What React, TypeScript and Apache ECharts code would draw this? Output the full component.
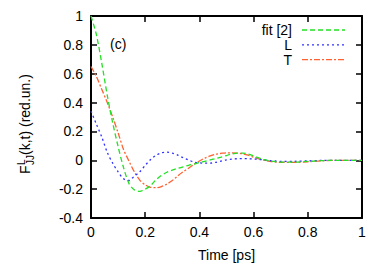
import React, { useEffect, useRef } from "react";
import * as echarts from "echarts";

const times = [
  0, 0.02, 0.04, 0.06, 0.08, 0.1, 0.12, 0.14, 0.16, 0.18, 0.2, 0.22, 0.24, 0.26, 0.28, 0.3,
  0.32, 0.34, 0.36, 0.38, 0.4, 0.42, 0.44, 0.46, 0.48, 0.5, 0.52, 0.54, 0.56, 0.58, 0.6,
  0.62, 0.64, 0.66, 0.68, 0.7, 0.75, 0.8, 0.85, 0.9, 0.95, 1.0,
];

const fitValues = [
  1.0, 0.87, 0.67, 0.45, 0.26, 0.095, -0.05, -0.16, -0.205, -0.215, -0.2, -0.175, -0.135,
  -0.105, -0.083, -0.068, -0.056, -0.045, -0.035, -0.026, -0.016, -0.007, 0.003, 0.012,
  0.022, 0.033, 0.044, 0.05, 0.05, 0.043, 0.03, 0.016, 0.004, -0.004, -0.01, -0.013, -0.013,
  -0.008, -0.003, 0, 0, 0,
];

const lValues = [
  0.34, 0.25, 0.16, 0.055, -0.02, -0.08, -0.128, -0.14, -0.11, -0.08, -0.035, 0.005, 0.035,
  0.052, 0.056, 0.05, 0.036, 0.018, 0.002, -0.012, -0.018, -0.02, -0.02, -0.014, -0.006,
  0.003, 0.008, 0.011, 0.012, 0.011, 0.009, 0.006, 0.002, -0.002, -0.005, -0.007, -0.007,
  -0.004, -0.001, 0, 0, 0,
];

const tValues = [
  0.65, 0.58, 0.49, 0.4, 0.3, 0.19, 0.075, -0.005, -0.08, -0.137, -0.17, -0.187, -0.19,
  -0.182, -0.165, -0.14, -0.108, -0.08, -0.055, -0.028, -0.005, 0.015, 0.03, 0.042, 0.048,
  0.052, 0.052, 0.05, 0.045, 0.035, 0.022, 0.01, 0, -0.007, -0.012, -0.015, -0.015, -0.01,
  -0.004, 0, 0, 0,
];

const seriesNames = ["fit [2]", "L", "T"];
const seriesColors = ["#22e022", "#3030ff", "#ff6030"];
const seriesDash: number[][] = [[5, 3], [2, 3], [6, 2, 2, 2]];
const seriesValues = [fitValues, lValues, tValues];

const FONT = "Liberation Sans, Arial, Helvetica, sans-serif";

export default function App() {
  const ref = useRef<HTMLDivElement>(null);
  useEffect(() => {
    if (!ref.current) return;
    const chart = echarts.init(ref.current, undefined, { renderer: "svg" });
    const axisCommon = {
      type: "value" as const,
      axisLine: { show: true, onZero: false, lineStyle: { color: "#000", width: 2 } },
      axisTick: { show: true, inside: true, length: 6, lineStyle: { color: "#000", width: 1.5 } },
      splitLine: { show: false },
    };
    const legendRowsY = [30, 44.8, 59.6];
    const legendGraphics: any[] = [];
    seriesNames.forEach((name, i) => {
      legendGraphics.push({
        type: "text",
        x: 292,
        y: legendRowsY[i],
        style: {
          text: name,
          font: `14px ${FONT}`,
          fill: "#000",
          textAlign: "right",
          align: "right",
          textVerticalAlign: "middle",
          verticalAlign: "middle",
        },
      });
      legendGraphics.push({
        type: "line",
        shape: { x1: 302, y1: legendRowsY[i], x2: 345, y2: legendRowsY[i] },
        style: { stroke: seriesColors[i], lineWidth: 1.3, lineDash: seriesDash[i] },
      });
    });
    const option: any = {
      animation: false,
      backgroundColor: "#fff",
      textStyle: { fontFamily: FONT },
      grid: { left: 91, right: 12, top: 16, bottom: 48, containLabel: false },
      xAxis: [
        {
          ...axisCommon,
          position: "bottom",
          min: 0,
          max: 1,
          interval: 0.2,
          name: "Time [ps]",
          nameLocation: "middle",
          nameGap: 30,
          nameTextStyle: { fontSize: 14, color: "#000", fontFamily: FONT },
          axisLabel: { show: true, margin: 7, fontSize: 14, color: "#000", fontFamily: FONT },
        },
        {
          ...axisCommon,
          position: "top",
          min: 0,
          max: 1,
          interval: 0.2,
          axisLabel: { show: false },
        },
      ],
      yAxis: [
        {
          ...axisCommon,
          position: "left",
          min: -0.4,
          max: 1,
          interval: 0.2,
          axisLabel: { show: true, margin: 8, fontSize: 14, color: "#000", fontFamily: FONT },
        },
        {
          ...axisCommon,
          position: "right",
          min: -0.4,
          max: 1,
          interval: 0.2,
          axisLabel: { show: false },
        },
      ],
      series: seriesNames.map((name, i) => ({
        name,
        type: "line",
        xAxisIndex: 0,
        yAxisIndex: 0,
        data: times.map((t, k) => [t, seriesValues[i][k]]),
        smooth: 0.3,
        showSymbol: false,
        symbol: "none",
        lineStyle: { color: seriesColors[i], width: 1.3, type: seriesDash[i] },
        z: 3 - i,
      })),
      graphic: [
        ...legendGraphics,
        {
          type: "text",
          x: 110,
          y: 44,
          style: {
            text: "(c)",
            font: `14px ${FONT}`,
            fill: "#000",
            textVerticalAlign: "middle",
            verticalAlign: "middle",
          },
        },
        {
          type: "group",
          x: 25,
          y: 174,
          rotation: Math.PI / 2,
          children: [
            {
              type: "text",
              x: 0,
              y: 0,
              style: { text: "F", font: `14px ${FONT}`, fill: "#000", textVerticalAlign: "middle", verticalAlign: "middle" },
            },
            {
              type: "text",
              x: 9,
              y: -4,
              style: { text: "L", font: `10px ${FONT}`, fill: "#000", textVerticalAlign: "middle", verticalAlign: "middle" },
            },
            {
              type: "text",
              x: 9,
              y: 5,
              style: { text: "JJ", font: `10px ${FONT}`, fill: "#000", textVerticalAlign: "middle", verticalAlign: "middle" },
            },
            {
              type: "text",
              x: 19,
              y: 0,
              style: { text: "(k,t) (red.un.)", font: `14px ${FONT}`, fill: "#000", textVerticalAlign: "middle", verticalAlign: "middle" },
            },
          ],
        },
      ],
    };
    chart.setOption(option);
    return () => chart.dispose();
  }, []);
  return (
    <div
      ref={ref}
      style={{ position: "fixed", left: 0, top: 0, width: 374, height: 267, background: "#fff" }}
    />
  );
}
